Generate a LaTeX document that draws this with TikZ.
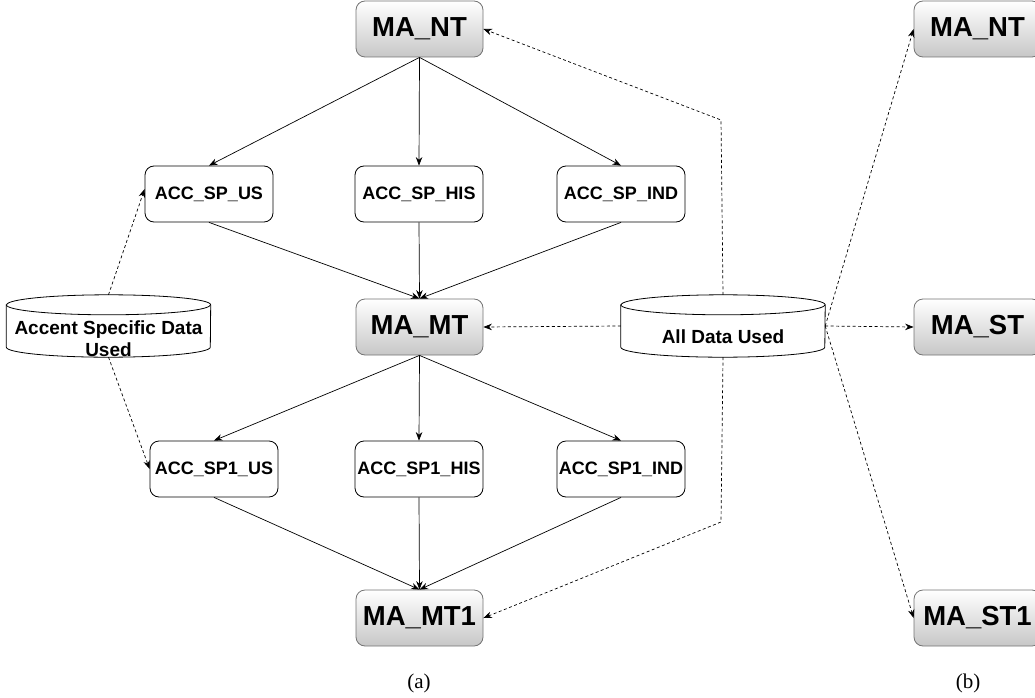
\documentclass[tikz,border=0pt]{standalone}
\usepackage{fontspec}
\setmainfont{Liberation Serif}
\newfontfamily\lsans{Liberation Sans}
\usetikzlibrary{arrows.meta,calc}
\tikzset{
  manode/.style={draw=black!55, rounded corners=9pt, top color=white, bottom color=black!22,
    minimum width=127pt, minimum height=56pt, inner sep=0pt, line width=0.8pt,
    font=\lsans\bfseries\fontsize{27.5}{30}\selectfont},
  accnode/.style={draw=black, fill=white, rounded corners=9pt,
    minimum width=128pt, minimum height=56pt, inner sep=0pt, line width=0.8pt,
    font=\lsans\bfseries\fontsize{18}{20}\selectfont},
  cylbox/.style={minimum width=204pt, minimum height=62pt, inner sep=0pt},
  cyltext/.style={align=center, inner sep=0pt, font=\lsans\bfseries\fontsize{19}{22}\selectfont},
  arr/.style={line width=0.7pt, -{Stealth[length=8.5pt,width=6.5pt]}},
  darr/.style={line width=0.7pt, dash pattern=on 3pt off 2.5pt, -{Stealth[length=8.5pt,width=6.5pt]}},
  captext/.style={font=\fontsize{21}{24}\selectfont, inner sep=0pt}
}
\begin{document}
\begin{tikzpicture}[x=1pt,y=-1pt]
\useasboundingbox (0,0) rectangle (1035,698);
\clip (0,0) rectangle (1035,698);
% main nodes
\node[manode] (MAnt) at (419.5,29) {MA\_NT};
\node[manode] (MAmt) at (419.5,327) {MA\_MT};
\node[manode] (MAmtone) at (419.5,618) {MA\_MT1};
\node[manode] (RMAnt) at (977.5,29) {MA\_NT};
\node[manode] (RMAst) at (977.5,327) {MA\_ST};
\node[manode] (RMAstone) at (977.5,618) {MA\_ST1};
% acc nodes
\node[accnode] (accUS) at (209,194) {ACC\_SP\_US};
\node[accnode] (accHIS) at (419,194) {ACC\_SP\_HIS};
\node[accnode] (accIND) at (621,194) {ACC\_SP\_IND};
\node[accnode] (accOUS) at (214,469) {ACC\_SP1\_US};
\node[accnode] (accOHIS) at (419,469) {ACC\_SP1\_HIS};
\node[accnode] (accOIND) at (621,469) {ACC\_SP1\_IND};
% cylinders
\node[cylbox] (cylA) at (108.5,326) {};
\node[cylbox] (cylB) at (723,326) {};
\foreach \c in {cylA,cylB}{
  \path[draw=black, fill=white, line width=0.8pt]
    ([yshift=-10pt]\c.north west) -- ([yshift=10pt]\c.south west)
    arc[start angle=180,end angle=360,x radius=102pt,y radius=10pt]
    -- ([yshift=-10pt]\c.north east)
    arc[start angle=0,end angle=180,x radius=102pt,y radius=10pt] -- cycle;
  \draw[line width=0.8pt] ([yshift=-10pt]\c.north west)
    arc[start angle=180,end angle=360,x radius=102pt,y radius=10pt];
}
\node[cyltext] (cylAtext) at (108.5,339) {Accent Specific Data\\Used};
\node[cyltext] (cylBtext) at (723,337) {All Data Used};
% solid arrows
\foreach \t in {accUS,accHIS,accIND}{
  \draw[arr] (MAnt.south) -- (\t.north);
  \draw[arr] (\t.south) -- (MAmt.north);
}
\foreach \t in {accOUS,accOHIS,accOIND}{
  \draw[arr] (MAmt.south) -- (\t.north);
  \draw[arr] (\t.south) -- (MAmtone.north);
}
% dashed arrows left
\draw[darr] (cylA.north) -- ([yshift=5pt]accUS.west);
\draw[darr] (cylA.south) -- (accOUS.west);
% dashed arrows right cylinder
\coordinate (bendT) at (721,120);
\coordinate (bendB) at (721,522);
\draw[darr] (cylB.west) -- (MAmt.east);
\draw[darr] (cylB.north) -- (bendT) -- (MAnt.east);
\draw[darr] (cylB.south) -- (bendB) -- (MAmtone.east);
\draw[darr] (cylB.east) -- (RMAnt.west);
\draw[darr] (cylB.east) -- (RMAst.west);
\draw[darr] (cylB.east) -- (RMAstone.west);
% captions
\node[captext] (capa) at (419,683) {(a)};
\node[captext] (capb) at (968,683) {(b)};
\end{tikzpicture}
\end{document}
